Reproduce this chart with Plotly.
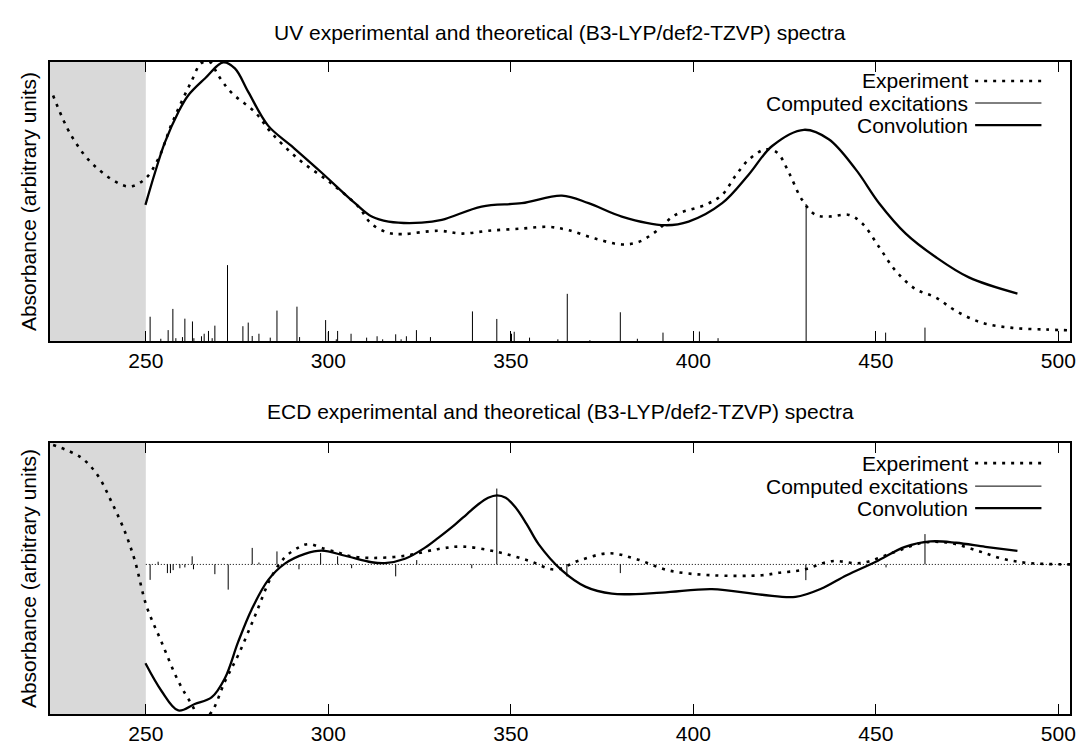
import plotly.graph_objects as go
from plotly.subplots import make_subplots

# ---------------- UV data ----------------
uv_exp_x = [224.6, 229.6, 236.0, 245.1, 249.7, 253.4, 256.9, 259.7, 262.4, 265.2, 267.6, 269.8,
            273.4, 280.0, 284.4, 291.8, 300.8, 308.2, 311.8, 316.4, 320.1, 330.2, 336.6, 343.9,
            353.0, 360.3, 365.8, 373.1, 380.4, 385.0, 389.6, 395.1, 403.3, 407.9, 411.5, 415.2,
            419.8, 423.0, 426.2, 429.8, 433.5, 437.1, 442.6, 446.3, 450.9, 455.4, 460.9, 466.4,
            471.9, 479.2, 487.4, 496.6, 503.5]
uv_exp_y = [0.880, 0.736, 0.627, 0.554, 0.580, 0.652, 0.772, 0.855, 0.928, 0.996, 1.000, 0.953,
            0.891, 0.819, 0.746, 0.652, 0.565, 0.482, 0.420, 0.388, 0.383, 0.395, 0.385, 0.395,
            0.403, 0.409, 0.397, 0.367, 0.346, 0.355, 0.391, 0.452, 0.488, 0.524, 0.591, 0.650,
            0.687, 0.675, 0.603, 0.506, 0.452, 0.446, 0.452, 0.421, 0.337, 0.252, 0.186, 0.156,
            0.108, 0.065, 0.047, 0.041, 0.038]

uv_conv_x = [249.9, 252.5, 255.2, 258.9, 261.6, 266.2, 271.2, 274.4, 278.1, 283.5, 289.9, 298.2,
             307.3, 311.9, 316.5, 325.6, 331.1, 342.0, 353.0, 364.0, 371.3, 380.4, 392.3, 398.7,
             407.9, 415.2, 421.6, 430.3, 437.1, 444.5, 450.9, 458.2, 466.4, 475.5, 488.8]
uv_conv_y = [0.488, 0.603, 0.711, 0.820, 0.880, 0.941, 0.999, 0.977, 0.892, 0.772, 0.699, 0.603,
             0.494, 0.446, 0.428, 0.424, 0.434, 0.482, 0.494, 0.521, 0.494, 0.446, 0.415, 0.428,
             0.494, 0.597, 0.699, 0.757, 0.723, 0.615, 0.494, 0.385, 0.301, 0.228, 0.170]

uv_stick_x = [251.18, 254.11, 256.12, 257.41, 258.23, 260.04, 260.70, 262.78, 263.17, 265.25,
              265.99, 267.17, 268.18, 268.92, 272.38, 276.60, 278.06, 279.15, 280.99, 284.09,
              285.93, 291.41, 292.13, 299.26, 300.00, 302.19, 302.55, 306.23, 310.50, 313.36,
              314.89, 318.46, 319.94, 321.39, 324.14, 327.98, 339.49, 346.16, 350.19, 350.93,
              355.13, 362.89, 365.47, 371.67, 380.00, 384.67, 391.69, 401.67, 406.78, 430.91,
              452.69, 463.47]
uv_stick_y = [0.087, 0.008, 0.039, 0.115, 0.010, 0.014, 0.080, 0.070, 0.010, 0.017,
              0.026, 0.036, 0.010, 0.055, 0.272, 0.053, 0.066, 0.018, 0.026, 0.012,
              0.109, 0.123, 0.014, 0.075, 0.032, 0.006, 0.036, 0.026, 0.012, 0.017,
              0.006, 0.024, 0.006, 0.017, 0.039, 0.014, 0.106, 0.079, 0.026, 0.033,
              0.012, 0.006, 0.169, 0.003, 0.103, 0.008, 0.030, 0.034, 0.010, 0.491,
              0.030, 0.048]

# ---------------- ECD data ----------------
ecd_exp_x = [224.6, 232.3, 236.9, 240.6, 244.2, 247.0, 250.2, 254.3, 258.9, 262.5, 265.3, 268.0,
             271.7, 275.3, 279.9, 284.4, 288.1, 291.8, 294.5, 299.1, 302.7, 305.5, 311.9, 321.0,
             330.2, 336.6, 345.7, 354.9, 362.2, 368.6, 376.8, 384.1, 393.2, 405.1, 418.8, 423.4,
             430.0, 438.0, 446.0, 455.0, 463.0, 470.0, 478.0, 485.0, 492.0, 503.5]
ecd_exp_y = [0.441, 0.394, 0.327, 0.231, 0.123, 0.014, -0.154, -0.286, -0.431, -0.515, -0.575, -0.545,
             -0.431, -0.335, -0.190, -0.046, 0.026, 0.062, 0.075, 0.057, 0.044, 0.032, 0.024, 0.032,
             0.057, 0.066, 0.048, 0.014, -0.019, 0.014, 0.041, 0.021, -0.022, -0.040, -0.040, -0.031,
             -0.020, 0.012, 0.005, 0.045, 0.080, 0.080, 0.050, 0.020, 0.005, 0.000]

ecd_conv_x = [249.9, 254.3, 258.9, 263.4, 268.0, 271.7, 275.3, 279.0, 283.5, 288.1, 293.6, 298.2,
              304.6, 311.9, 315.5, 321.0, 326.5, 330.2, 334.7, 338.0, 341.1, 343.8, 346.2, 348.6,
              351.2, 354.3, 357.6, 364.0, 370.4, 377.7, 391.4, 405.1, 418.8, 428.0, 435.0, 442.0,
              450.0, 458.0, 465.0, 472.0, 480.0, 488.8]
ecd_conv_y = [-0.365, -0.467, -0.539, -0.515, -0.491, -0.419, -0.286, -0.166, -0.058, 0.003, 0.039, 0.051,
              0.032, 0.008, 0.005, 0.021, 0.062, 0.099, 0.147, 0.186, 0.222, 0.246, 0.255, 0.246,
              0.212, 0.150, 0.075, -0.022, -0.082, -0.108, -0.104, -0.091, -0.112, -0.120, -0.090, -0.040,
              0.010, 0.065, 0.085, 0.080, 0.065, 0.050]

ecd_stick_x = [251.18, 253.37, 255.92, 256.75, 257.49, 259.33, 260.70, 262.70, 263.06, 268.92,
               272.57, 279.15, 280.99, 285.93, 291.96, 297.89, 302.55, 306.39, 318.46, 324.22,
               339.30, 346.16, 365.36, 380.00, 430.83, 452.80, 463.47]
ecd_stick_y = [-0.057, 0.010, -0.032, -0.032, -0.021, -0.014, -0.011, 0.030, -0.018, -0.036,
               -0.093, 0.061, 0.007, 0.048, -0.018, 0.042, 0.030, -0.014, -0.044, 0.016,
               -0.014, 0.280, -0.044, -0.032, -0.058, -0.011, 0.112]

x_range = [223.75, 503.2]
uv_range = [0.0, 1.0]
ecd_range = [-0.552, 0.448]
cut_off = 250
titles = ["UV experimental and theoretical (B3-LYP/def2-TZVP) spectra",
          "ECD experimental and theoretical (B3-LYP/def2-TZVP) spectra"]
ylabel = "Absorbance (arbitrary units)"
legend_names = ["Experiment", "Computed excitations", "Convolution"]

FONT = "Liberation Sans, Arial, Helvetica, sans-serif"
FS = 21
DOTS = "3px,6px"

def sticks(xs, ys):
    sx, sy = [], []
    for a, b in zip(xs, ys):
        sx += [a, a, None]
        sy += [0, b, None]
    return sx, sy

fig = make_subplots(rows=2, cols=1, vertical_spacing=0.16)

# UV
sx, sy = sticks(uv_stick_x, uv_stick_y)
fig.add_trace(go.Scatter(x=sx, y=sy, mode="lines", line=dict(color="black", width=1),
                         showlegend=False), row=1, col=1)
fig.add_trace(go.Scatter(x=uv_exp_x, y=uv_exp_y, mode="lines", line_shape="spline",
                         line=dict(color="black", width=2.6, dash=DOTS), showlegend=False), row=1, col=1)
fig.add_trace(go.Scatter(x=uv_conv_x, y=uv_conv_y, mode="lines", line_shape="spline",
                         line=dict(color="black", width=2.3), showlegend=False), row=1, col=1)

# ECD
fig.add_trace(go.Scatter(x=[cut_off, x_range[1]], y=[0, 0], mode="lines",
                         line=dict(color="black", width=1, dash="1px,2px"), showlegend=False), row=2, col=1)
sx, sy = sticks(ecd_stick_x, ecd_stick_y)
fig.add_trace(go.Scatter(x=sx, y=sy, mode="lines", line=dict(color="black", width=1),
                         showlegend=False), row=2, col=1)
fig.add_trace(go.Scatter(x=ecd_exp_x, y=ecd_exp_y, mode="lines", line_shape="spline",
                         line=dict(color="black", width=2.6, dash=DOTS), showlegend=False), row=2, col=1)
fig.add_trace(go.Scatter(x=ecd_conv_x, y=ecd_conv_y, mode="lines", line_shape="spline",
                         line=dict(color="black", width=2.3), showlegend=False), row=2, col=1)

axis_common = dict(showline=True, linecolor="black", linewidth=1.6, mirror=True, showgrid=False,
                   zeroline=False, automargin=False)
for r in (1, 2):
    fig.update_xaxes(range=x_range, tickmode="linear", tick0=0, dtick=50, ticks="inside",
                     ticklen=10, tickwidth=1.2, tickcolor="black", mirror="ticks",
                     automargin=False,
                     showline=True, linecolor="black", linewidth=1.6, showgrid=False, zeroline=False,
                     tickfont=dict(family=FONT, size=FS, color="black"), row=r, col=1)
fig.update_yaxes(range=uv_range, showticklabels=False, ticks="", **axis_common, row=1, col=1)
fig.update_yaxes(range=ecd_range, showticklabels=False, ticks="", **axis_common, row=2, col=1)

fig.update_layout(
    width=1084, height=747, margin=dict(l=42, r=22, t=54, b=41),
    plot_bgcolor="white", paper_bgcolor="white",
    font=dict(family=FONT, size=FS, color="black"),
    xaxis=dict(domain=[0, 1]), yaxis=dict(domain=[0.5721, 1.0]),
    xaxis2=dict(domain=[0, 1]), yaxis2=dict(domain=[0.0, 0.4156]),
)

# grey cut-off region
for r, yref in ((1, "y domain"), (2, "y2 domain")):
    xr = "x" if r == 1 else "x2"
    fig.add_shape(type="rect", xref=xr, yref=yref, x0=x_range[0], x1=cut_off, y0=0, y1=1,
                  fillcolor="#d9d9d9", line=dict(width=0), layer="below")

# titles and y labels
fig.add_annotation(text=titles[0], xref="paper", yref="paper", x=0.5, y=1.0445, showarrow=False,
                   xanchor="center", yanchor="middle", font=dict(family=FONT, size=FS))
fig.add_annotation(text=titles[1], xref="paper", yref="paper", x=0.5, y=0.4647, showarrow=False,
                   xanchor="center", yanchor="middle", font=dict(family=FONT, size=FS))
for yref in ("y domain", "y2 domain"):
    fig.add_annotation(text=ylabel, xref="paper", yref=yref, x=-0.021, y=0.5, textangle=-90,
                       showarrow=False, xanchor="center", yanchor="middle",
                       font=dict(family=FONT, size=FS))

# custom legends (text right, sample on the right)
leg = {"x": ("x domain", "y domain", [0.932, 0.853, 0.774]),
       "x2": ("x2 domain", "y2 domain", [0.926, 0.841, 0.760])}
styles = [dict(color="black", width=2.6, dash=DOTS), dict(color="black", width=1),
          dict(color="black", width=2.3)]
for key, (xr, yr, ys) in leg.items():
    for name, yy, st in zip(legend_names, ys, styles):
        fig.add_annotation(text=name, xref=xr, yref=yr, x=0.902, y=yy, showarrow=False,
                           xanchor="right", yanchor="middle", font=dict(family=FONT, size=FS))
        fig.add_shape(type="line", xref=xr, yref=yr, x0=0.907, x1=0.972, y0=yy, y1=yy, line=st)

fig.write_html("out.html")
